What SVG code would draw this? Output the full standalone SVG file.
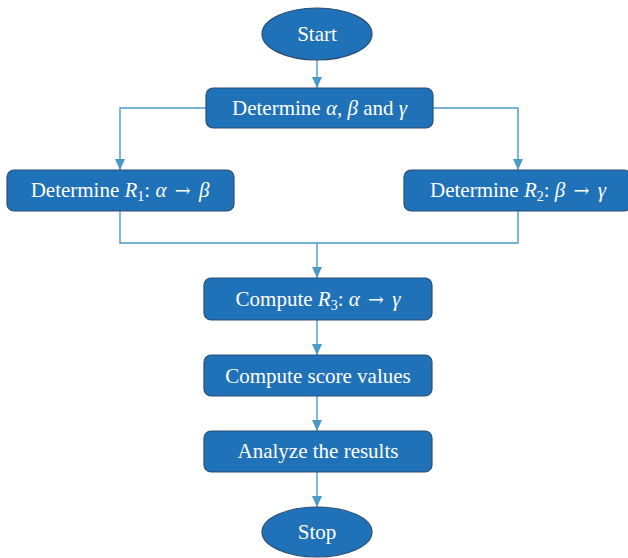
<svg xmlns="http://www.w3.org/2000/svg" width="628" height="558" viewBox="0 0 628 558">
<defs>
<marker id="ah" markerWidth="12" markerHeight="10" refX="11" refY="5" orient="auto" markerUnits="userSpaceOnUse">
<path d="M0,0 L11,5 L0,10 Z" fill="#4b9ac6"/>
</marker>
</defs>
<style>
.n{fill:#1f71b8;stroke:#2b4f73;stroke-width:1.2}
.t{fill:#ffffff;font-family:"Liberation Serif","DejaVu Serif",serif;font-size:21px;text-anchor:middle}
.i{font-style:italic}
.a{font-family:"DejaVu Serif",serif;font-size:19px}
.c{fill:none;stroke:#4b9ac6;stroke-width:1.4}
</style>
<rect width="628" height="558" fill="#ffffff"/>
<g id="connectors">
<path class="c" d="M317,60 V88" marker-end="url(#ah)"/>
<path class="c" d="M206,108 H120 V170" marker-end="url(#ah)"/>
<path class="c" d="M433,108 H518 V170" marker-end="url(#ah)"/>
<path class="c" d="M120,211 V243 H518 V211"/>
<path class="c" d="M317,243 V278" marker-end="url(#ah)"/>
<path class="c" d="M317,320 V355" marker-end="url(#ah)"/>
<path class="c" d="M317,396 V431" marker-end="url(#ah)"/>
<path class="c" d="M317,472 V507" marker-end="url(#ah)"/>
</g>
<g id="start">
<ellipse class="n" cx="317" cy="34" rx="55" ry="26"/>
<text class="t" x="317" y="41">Start</text>
</g>
<g id="determine">
<rect class="n" x="206" y="88" width="227" height="40" rx="7"/>
<text class="t" x="319.5" y="115">Determine <tspan class="i">α</tspan>, <tspan class="i">β</tspan> and <tspan class="i">γ</tspan></text>
</g>
<g id="r1">
<rect class="n" x="7" y="170" width="227" height="41" rx="7"/>
<text class="t" x="120" y="197">Determine <tspan class="i">R</tspan><tspan font-size="14" dy="4">1</tspan><tspan dy="-4">: </tspan><tspan class="i">α</tspan> <tspan class="a" dx="3">→</tspan> <tspan class="i" dx="3">β</tspan></text>
</g>
<g id="r2">
<rect class="n" x="404" y="170" width="227" height="41" rx="7"/>
<text class="t" x="518" y="197">Determine <tspan class="i">R</tspan><tspan font-size="14" dy="4">2</tspan><tspan dy="-4">: </tspan><tspan class="i">β</tspan> <tspan class="a" dx="3">→</tspan> <tspan class="i" dx="3">γ</tspan></text>
</g>
<g id="r3">
<rect class="n" x="204" y="278" width="228" height="42" rx="7"/>
<text class="t" x="318" y="306">Compute <tspan class="i">R</tspan><tspan font-size="14" dy="4">3</tspan><tspan dy="-4">: </tspan><tspan class="i">α</tspan> <tspan class="a" dx="3">→</tspan> <tspan class="i" dx="3">γ</tspan></text>
</g>
<g id="score">
<rect class="n" x="204" y="355" width="228" height="41" rx="7"/>
<text class="t" x="318" y="383">Compute score values</text>
</g>
<g id="analyze">
<rect class="n" x="204" y="431" width="228" height="41" rx="7"/>
<text class="t" x="318" y="458">Analyze the results</text>
</g>
<g id="stop">
<ellipse class="n" cx="317" cy="532" rx="55" ry="25"/>
<text class="t" x="317" y="539">Stop</text>
</g>
</svg>
